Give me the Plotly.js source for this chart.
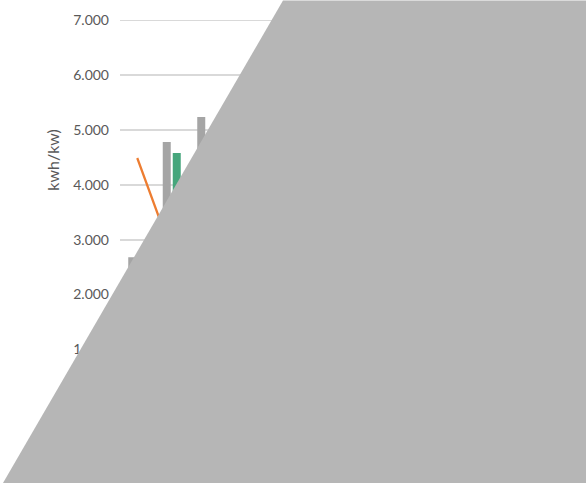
<!DOCTYPE html>
<html>
<head>
<meta charset="utf-8">
<script src="https://cdn.plot.ly/plotly-3.0.1.min.js"></script>
<style>html,body{margin:0;padding:0;background:#fff;}#chart{width:586px;height:483px;}</style>
</head>
<body>
<div id="chart"></div>
<script>
// Categories (hidden under the overlay in the reference; labels are estimates)
const categories = ["1", "2", "3", "4", "5", "6", "7", "8", "9", "10", "11", "12"];
// Series values (kwh/kw) – visible ones, hidden ones estimated
const graySeries  = [2680, 4780, 5240, 5500, 5300, 5000, 5200, 5400, 5100, 4900, 4300, 3900];
const greenSeries = [2500, 4580, 4900, 5200, 5000, 4700, 4900, 5100, 4800, 4600, 4000, 3600];
const orangeLine  = [4490, 2770, 3500, 3800, 3600, 3400, 3500, 3700, 3500, 3300, 3100, 3000];
const yTickVals   = [0, 1000, 2000, 3000, 4000, 5000, 6000, 7000];
const yTitle = "kwh/kw)";

const font = {family: "Lato, 'Open Sans', sans-serif", color: "#595959", size: 14};

const traces = [
  {type: "bar", x: categories, y: graySeries, name: "A", marker: {color: "#a5a5a5"}},
  {type: "bar", x: categories, y: greenSeries, name: "B", marker: {color: "#46a67c"}},
  {type: "scatter", mode: "lines", x: categories, y: orangeLine, name: "C",
   line: {color: "#ed7d31", width: 2.25}}
];

const layout = {
  width: 586, height: 483,
  margin: {l: 120, r: 52, t: 14.5, b: 79},
  paper_bgcolor: "#ffffff", plot_bgcolor: "#ffffff",
  showlegend: false,
  separators: ",.",
  barmode: "group", bargap: 0.42, bargroupgap: 0.2,
  font: font,
  xaxis: {type: "category", range: [-0.5, categories.length - 0.5], showgrid: false,
          showline: false, zeroline: false, ticks: "", tickfont: font},
  yaxis: {range: [0, 7100], tickvals: yTickVals, tickformat: ",d", showgrid: true,
          gridcolor: "#d9d9d9", gridwidth: 1.75, zeroline: false, showline: false,
          ticks: "", ticklen: 0, ticklabelstandoff: 10, tickfont: font, automargin: false},
  annotations: [{text: yTitle, xref: "paper", yref: "paper", x: -0.162, y: 0.628,
                 xanchor: "center", yanchor: "middle", textangle: -90, showarrow: false,
                 font: {family: font.family, color: "#595959", size: 16}}],
  shapes: [{type: "path", xref: "paper", yref: "paper", layer: "above",
            path: "M 0.3937 1.0372 L 1.1256 1.0372 L 1.1256 -0.2028 L -0.2826 -0.2028 Z",
            fillcolor: "#b6b6b6", line: {width: 0}}]
};

Plotly.newPlot("chart", traces, layout, {displayModeBar: false, staticPlot: true});
</script>
</body>
</html>
